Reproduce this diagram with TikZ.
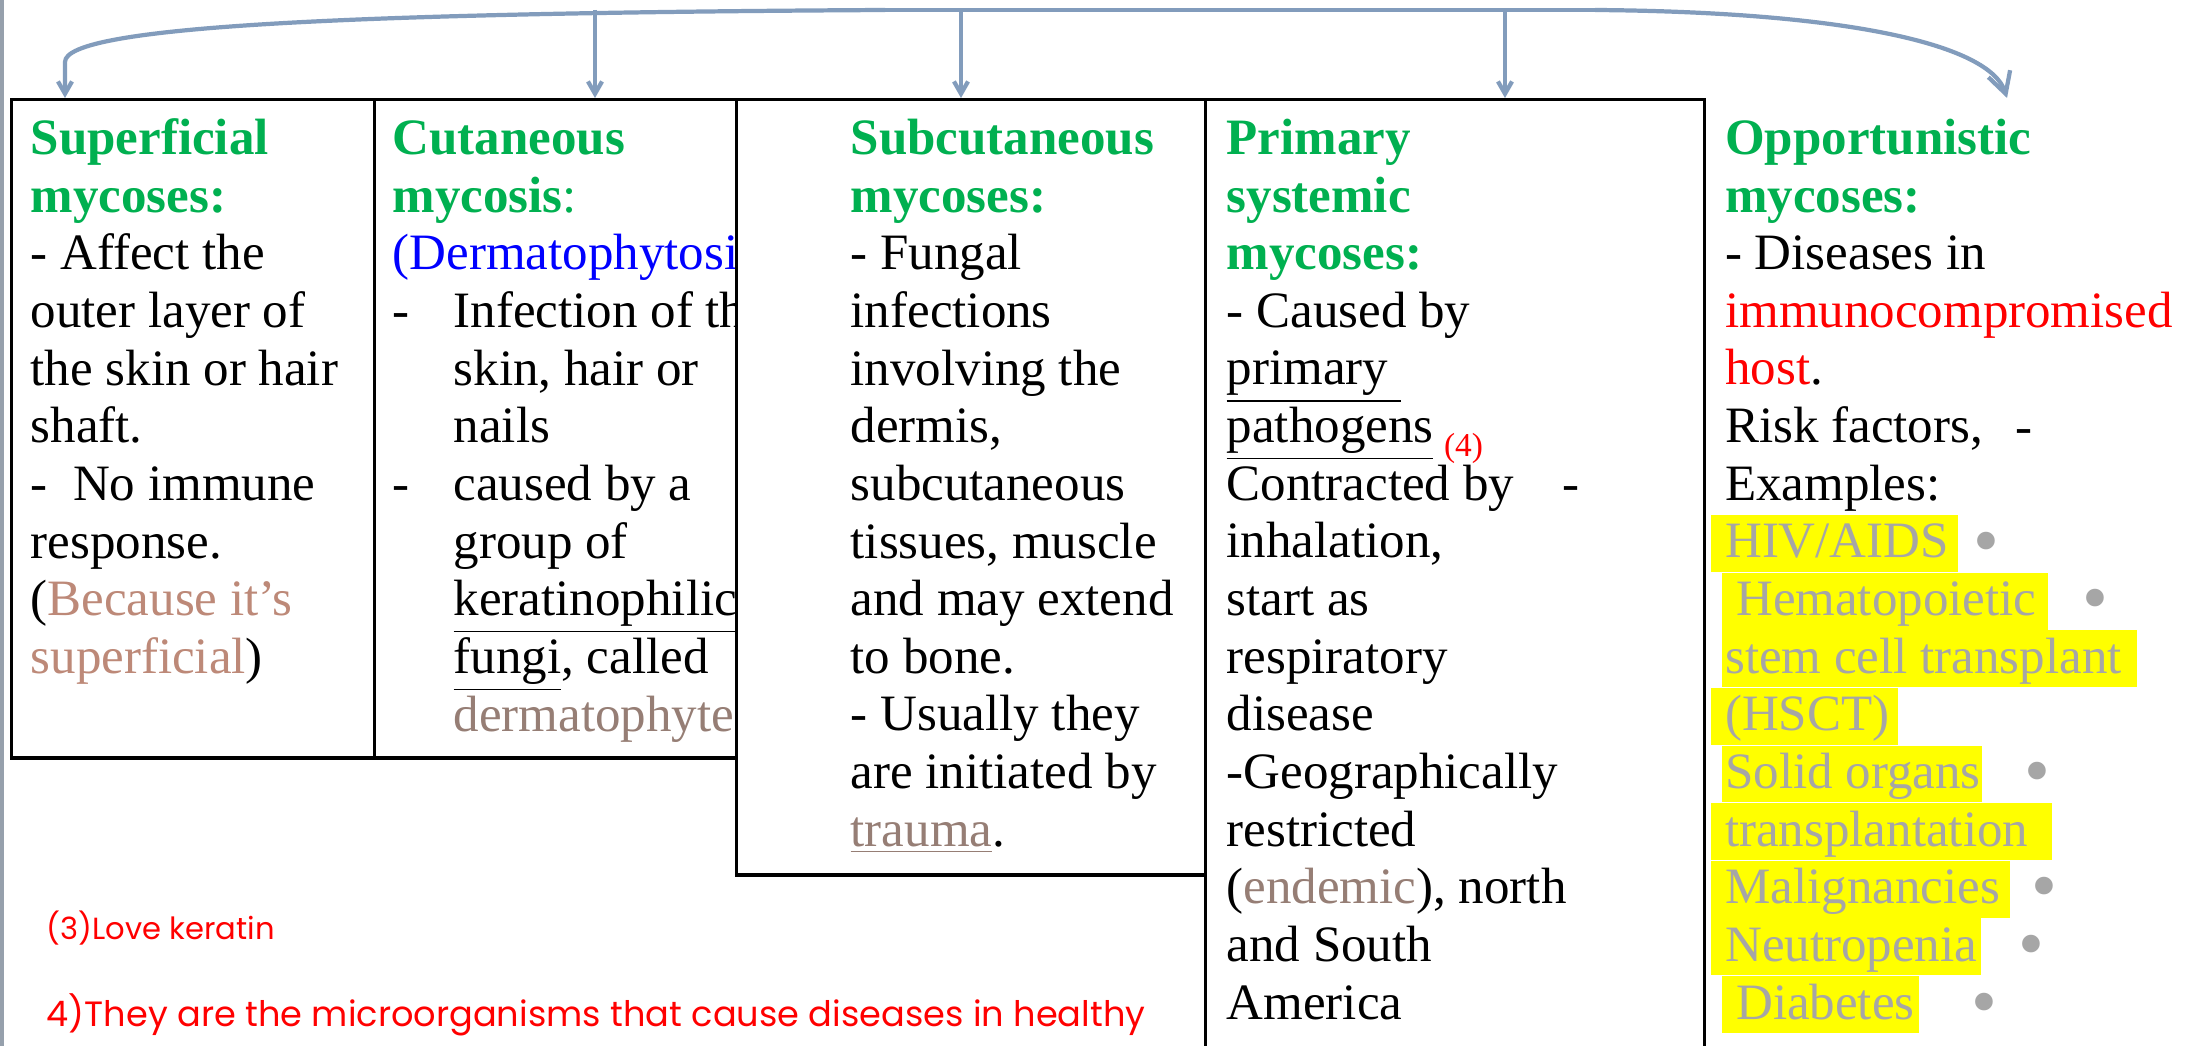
\documentclass[tikz,border=0pt]{standalone}
\usepackage{fontspec}
\setmainfont{Liberation Serif}
\newfontfamily\notefont{Poppins}
\usetikzlibrary{calc, positioning, arrows.meta}

\definecolor{headgreen}{RGB}{0,176,80}
\definecolor{rosy}{RGB}{189,137,120}
\definecolor{taupe}{RGB}{150,126,117}
\definecolor{examplegray}{RGB}{166,166,166}
\newcommand{\mhead}[1]{\textcolor{headgreen}{\textbf{#1}}}

\begin{document}
\begin{tikzpicture}[x=0.01cm, y=-0.01cm]
    \tikzset{
      box/.style={
        draw, line width=0.9pt, fill=white,
        anchor=north west, inner sep=0pt,
      },
      % anchored at the baseline of the last line
      body/.style={
        anchor=base west, align=left, inner sep=0pt,
        font=\fontsize{14.5}{16.39}\selectfont,
      },
      link/.style={
        draw={rgb,255:red,130;green,156;blue,188}, line width=1.2pt,
        -{Straight Barb[length=3.5pt, width=4pt]},
      },
      bar/.style={
        draw={rgb,255:red,130;green,156;blue,188}, line width=1.2pt,
      },
      highlight/.style={fill={rgb,255:red,255;green,255;blue,0}},
      dot/.style={
        anchor=base, inner sep=0pt, text=examplegray,
        font=\fontsize{21}{21}\selectfont,
      },
      note/.style={
        anchor=west, inner sep=0pt, text=red,
        font=\notefont\fontsize{10}{12}\selectfont,
      },
    }

    \clip (0,0) rectangle (2204,1046);
    \fill[white] (0,0) rectangle (2204,1046);
    \fill[fill={rgb,255:red,150;green,160;blue,172}] (0,0) rectangle (4,1046);

    % connectors along the top
    \coordinate (lbend) at (885,10);
    \coordinate (rbend) at (1595,10);
    \coordinate (tsuperficial) at (65,10);
    \coordinate (tcutaneous) at (595,10);
    \coordinate (tsubcutaneous) at (961,10);
    \coordinate (tsystemic) at (1505,10);
    \coordinate (topp) at (2007,98);

    % boxes
    \node[box, minimum width=3.63cm, minimum height=6.58cm] (superficial) at (10,98) {};
    \node[body] (supertext) at ($(superficial.north west) + (20,575.4)$) {%
      \mhead{Superficial}\\
      \mhead{mycoses:}\\
      - Affect the\\
      outer layer of\\
      the skin or hair\\
      shaft.\\
      -\ \ No immune\\
      response.\\
      (\textcolor{rosy}{Because it’s}\\
      \textcolor{rosy}{superficial})};

    \node[box, minimum width=3.87cm, minimum height=6.58cm] (cutaneous) at (373,98) {};
    \node[body] (cutetext) at ($(cutaneous.north west) + (19,633)$) {%
      \mhead{Cutaneous}\\
      \textcolor{headgreen}{\textbf{mycosis}:}\\
      \textcolor{blue}{(Dermatophytosis)}\\
      \makebox[0.61cm][l]{-}Infection of the\\
      \hspace*{0.61cm}skin, hair or\\
      \hspace*{0.61cm}nails\\
      \makebox[0.61cm][l]{-}caused by a\\
      \hspace*{0.61cm}group of\\
      \hspace*{0.61cm}\underline{keratinophilic}\\
      \hspace*{0.61cm}\underline{fungi}, called\\
      \hspace*{0.61cm}\textcolor{taupe}{dermatophytes}};

    \node[box, minimum width=4.69cm, minimum height=7.75cm] (subcutaneous) at (735,98) {};
    \node[body] (subtext) at ($(subcutaneous.north west) + (115,748.2)$) {%
      \mhead{Subcutaneous}\\
      \mhead{mycoses:}\\
      - Fungal\\
      infections\\
      involving the\\
      dermis,\\
      subcutaneous\\
      tissues, muscle\\
      and may extend\\
      to bone.\\
      - Usually they\\
      are initiated by\\
      \textcolor{taupe}{\underline{trauma}}.};

    \node[box, minimum width=4.99cm, minimum height=10cm] (systemic) at (1204,98) {};
    \node[body] (systext) at ($(systemic.north west) + (22,921)$) {%
      \mhead{Primary}\\
      \mhead{systemic}\\
      \mhead{mycoses:}\\
      - Caused by\\
      \underline{primary\ }\\
      \underline{pathogens}\hspace{3pt}\raisebox{-4pt}{\textcolor{red}{\fontsize{9.5}{9.5}\selectfont(4)}}\\
      Contracted by\\
      inhalation,\\
      start as\\
      respiratory\\
      disease\\
      -Geographically\\
      restricted\\
      (\textcolor{taupe}{endemic}), north\\
      and South\\
      America};
    \node[body, anchor=base] (cdash) at (1571,500.6) {-};

    % highlighted examples
    \foreach \k/\xa/\xb in {7/1711/1958, 8/1722/2048, 9/1722/2137, 10/1711/1898,
                            11/1722/1982, 12/1711/2052, 13/1711/2010, 14/1711/1981,
                            15/1722/1919}
      \fill[highlight] (\xa,{112+57.6*\k}) rectangle (\xb,{168.8+57.6*\k});

    \node[body] (opportunistic) at ($(systemic.north east) + (18,921)$) {%
      \mhead{Opportunistic}\\
      \mhead{mycoses:}\\
      - Diseases in\\
      \textcolor{red}{immunocompromised}\\
      \textcolor{red}{host}.\\
      Risk factors,\\
      Examples:\\
      \textcolor{examplegray}{HIV/AIDS}\\
      \hspace*{0.11cm}\textcolor{examplegray}{Hematopoietic}\\
      \textcolor{examplegray}{stem cell transplant}\\
      \textcolor{examplegray}{(HSCT)}\\
      \textcolor{examplegray}{Solid organs}\\
      \textcolor{examplegray}{transplantation}\\
      \textcolor{examplegray}{Malignancies}\\
      \textcolor{examplegray}{Neutropenia}\\
      \hspace*{0.11cm}\textcolor{examplegray}{Diabetes}};
    \node[body, anchor=base] (rdash) at (2024,443) {-};

    \foreach \k/\x in {7/1986, 8/2095, 11/2037, 13/2044, 14/2031, 15/1984}
      \node[dot] (b\k) at (\x,{162+57.6*\k}) {•};

    % arrows
    \draw[bar] (lbend) -- (rbend);
    \draw[link] (lbend) .. controls (350,13) and (65,26) .. (65,62) -- (tsuperficial |- superficial.north);
    \foreach \n in {cutaneous, subcutaneous, systemic}
      \draw[link] (t\n) -- (t\n |- \n.north);
    \draw[link, -{Straight Barb[length=6pt, width=6.5pt]}] (rbend) .. controls (1850,12) and (1990,45) .. (topp);

    % notes
    \node[note, font=\notefont\fontsize{8.7}{10}\selectfont] (keratin) at (46,928) {(3)Love keratin};
    \node[note] (healthy) at (46,1015) {4)They are the microorganisms that cause diseases in healthy};
\end{tikzpicture}
\end{document}
